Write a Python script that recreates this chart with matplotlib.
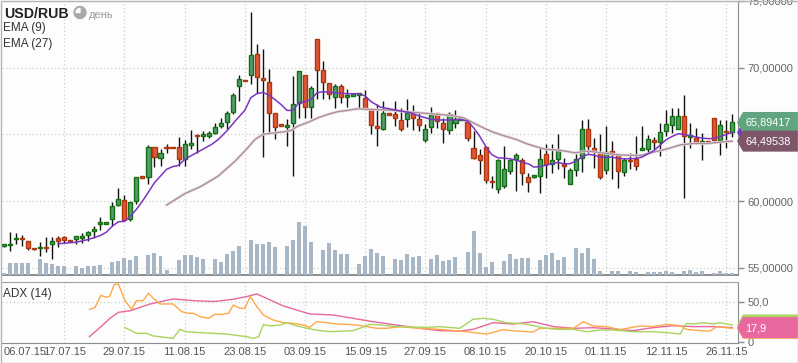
import numpy as np
import matplotlib
matplotlib.use('Agg')
import matplotlib.pyplot as plt
from matplotlib.patches import Polygon, Rectangle, Circle, Wedge

plt.rcParams['font.family'] = ['Liberation Sans', 'DejaVu Sans']

# ------------------------------------------
# Data
# ------------------------------------------
dates = ['06.07.15', '17.07.15', '29.07.15', '11.08.15', '23.08.15', '03.09.15', '15.09.15',
         '27.09.15', '08.10.15', '20.10.15', '01.11.15', '12.11.15', '26.11.15']

opens = [56.63, 56.72, 57.18, 57.25, 57.00, 56.50, 56.48, 56.57, 56.78, 57.25,
         57.32, 57.10, 57.15, 57.22, 57.48, 57.78, 58.30, 58.30, 58.68, 59.72,
         60.10, 58.68, 60.00, 61.85, 61.80, 64.02, 63.22, 64.08, 64.08, 64.02,
         63.18, 64.20, 64.95, 64.88, 64.90, 65.12, 65.65, 65.95, 66.68, 68.62,
         69.10, 69.42, 71.00, 69.20, 68.95, 66.58, 65.75, 65.55, 65.88, 67.38,
         69.42, 67.08, 72.17, 69.80, 68.88, 67.80, 68.60, 67.82, 67.90, 67.95,
         67.70, 66.80, 65.60, 65.42, 66.58, 66.55, 66.08, 66.17, 66.62, 66.17,
         64.58, 65.57, 66.58, 65.88, 65.32, 65.88, 66.08, 65.95, 64.00, 63.42,
         64.08, 61.53, 60.93, 61.13, 62.25, 63.18, 63.05, 61.80, 61.80, 61.88,
         63.55, 62.75, 63.13, 62.75, 61.30, 62.33, 63.25, 65.38, 64.00, 63.63,
         62.33, 63.75, 63.55, 62.18, 63.08, 63.13, 63.83, 63.93, 64.58, 64.45,
         65.25, 65.72, 65.42, 66.37, 64.80, 64.75, 64.35, 64.48, 66.22, 64.58,
         65.27, 65.20]
highs = [56.82, 57.70, 57.62, 57.43, 57.00, 56.50, 56.92, 57.32, 57.32, 57.38,
         57.38, 57.10, 57.40, 57.62, 57.75, 58.12, 58.80, 58.40, 59.92, 60.98,
         60.42, 59.95, 61.78, 61.85, 64.18, 64.02, 63.92, 64.25, 64.08, 64.78,
         64.55, 65.30, 65.05, 65.25, 65.25, 65.88, 66.25, 66.75, 68.12, 69.42,
         69.10, 74.17, 71.75, 71.37, 69.88, 66.58, 65.75, 66.12, 69.37, 69.75,
         69.42, 68.62, 72.17, 70.50, 68.88, 68.75, 68.75, 68.38, 68.05, 68.12,
         68.30, 66.80, 67.25, 67.50, 66.58, 67.50, 67.00, 67.62, 67.17, 66.62,
         65.75, 67.08, 66.58, 66.25, 66.67, 66.80, 66.20, 66.12, 65.25, 63.88,
         64.08, 61.88, 63.18, 64.12, 63.18, 63.58, 63.25, 62.13, 61.93, 63.95,
         64.25, 64.25, 65.00, 63.25, 62.50, 63.50, 66.08, 66.12, 64.75, 65.00,
         65.62, 64.50, 63.55, 63.25, 63.63, 64.88, 65.62, 64.93, 64.80, 65.88,
         66.80, 67.00, 67.00, 67.92, 65.88, 65.50, 65.12, 64.48, 66.22, 66.05,
         66.05, 66.50]
lows = [56.57, 56.25, 56.82, 56.63, 56.33, 56.33, 55.88, 56.17, 55.63, 56.55,
        56.88, 57.00, 56.80, 56.88, 57.00, 57.25, 57.82, 58.30, 58.12, 59.62,
        58.62, 58.50, 59.75, 61.72, 61.25, 62.55, 62.62, 63.62, 63.98, 62.62,
        62.62, 63.88, 63.62, 64.50, 64.75, 65.00, 65.50, 65.38, 66.50, 67.50,
        69.00, 68.75, 68.12, 63.30, 65.00, 64.62, 65.62, 64.12, 61.88, 66.25,
        66.25, 66.25, 67.62, 67.62, 67.62, 67.00, 67.38, 67.05, 67.90, 66.88,
        66.88, 65.00, 64.12, 65.30, 66.48, 65.62, 65.25, 65.58, 65.32, 65.25,
        64.42, 65.12, 65.50, 64.32, 65.00, 65.50, 66.08, 64.50, 63.12, 62.00,
        61.32, 60.95, 60.58, 61.00, 62.00, 60.75, 61.20, 60.68, 61.73, 60.58,
        61.75, 62.08, 62.38, 61.75, 61.25, 61.88, 62.17, 63.63, 62.50, 61.63,
        62.00, 61.63, 61.00, 61.88, 62.38, 62.33, 63.83, 63.63, 63.88, 63.38,
        64.88, 65.12, 65.38, 60.25, 64.00, 64.25, 63.08, 64.35, 64.50, 63.45,
        63.95, 64.83]
closes = [56.75, 56.82, 57.25, 57.18, 56.50, 56.40, 56.57, 56.48, 57.02, 57.00,
          57.08, 57.00, 57.40, 57.35, 57.65, 57.88, 58.45, 58.40, 59.60, 60.12,
          58.62, 59.95, 61.78, 61.72, 64.02, 63.32, 63.58, 63.98, 63.98, 63.18,
          64.30, 64.32, 64.85, 65.00, 65.08, 65.58, 65.82, 66.58, 67.92, 69.18,
          69.00, 70.92, 69.30, 69.08, 66.62, 65.55, 65.62, 65.68, 67.25, 69.75,
          67.05, 68.45, 69.85, 68.95, 68.05, 68.60, 67.82, 67.98, 68.05, 68.08,
          66.92, 65.70, 65.48, 66.58, 66.48, 66.25, 65.42, 66.62, 66.25, 65.72,
          65.42, 66.45, 66.00, 65.38, 66.50, 66.12, 66.20, 64.75, 63.20, 63.08,
          61.58, 61.43, 63.08, 62.38, 63.05, 63.45, 62.13, 61.43, 61.93, 63.13,
          62.78, 63.05, 63.80, 62.63, 62.30, 63.13, 65.38, 64.13, 63.75, 61.80,
          63.70, 63.63, 62.25, 63.05, 62.98, 62.63, 63.95, 64.63, 64.45, 65.20,
          65.80, 66.37, 66.37, 64.88, 64.93, 64.45, 64.48, 64.35, 64.55, 65.70,
          65.17, 65.89417]

volume = [2, 12, 12, 12, 12, 0, 16, 12, 11, 9, 9, 0, 9, 7, 9, 9, 10, 0, 13, 14,
          17, 15, 19, 0, 20, 22, 19, 5, 0, 15, 20, 20, 18, 16, 0, 16, 13, 21, 24, 29,
          0, 35, 31, 31, 33, 28, 0, 29, 35, 53, 49, 33, 0, 25, 32, 25, 21, 21, 0, 11,
          19, 26, 22, 19, 0, 16, 15, 21, 18, 19, 0, 16, 20, 14, 15, 18, 0, 23, 44, 22,
          8, 13, 0, 14, 21, 16, 17, 17, 0, 15, 20, 22, 15, 18, 0, 27, 22, 27, 16, 4,
          0, 4, 4, 0, 4, 3, 0, 3, 3, 3, 4, 3, 0, 4, 5, 3, 4, 0, 2, 4, 2, 2]

# EMA lines (bar index, value)
ema9_x = [9, 12, 14, 16, 17, 18, 19, 20, 21, 22, 23, 24, 25, 26, 27, 28, 29, 30, 31, 33,
          34.5, 35.6, 37, 38.4, 40, 41, 42, 43, 44, 45, 46, 47, 48, 49, 50, 51, 52, 53, 55, 57,
          59, 60, 61, 62.5, 64, 66, 67.5, 69, 71, 72.5, 74, 75.7, 77, 78, 79, 80, 81, 82, 84, 85.6,
          87.3, 88, 89, 90.6, 92, 93, 94, 95, 96, 97, 98, 99, 100, 101, 102, 103, 104, 105, 106, 107,
          108, 109, 110, 111, 112, 113, 114, 115, 116, 117, 118, 119, 120, 121]
ema9_y = [56.80, 56.92, 57.12, 57.42, 57.67, 58.12, 58.45, 58.48, 58.88, 59.38, 60.00, 60.68,
          61.38, 61.88, 62.38, 62.58, 62.68, 63.12, 63.38, 63.88, 64.25, 64.62, 65.25, 66.00,
          66.80, 67.75, 68.05, 68.15, 67.95, 67.62, 67.25, 66.80, 66.80, 67.38, 67.45, 67.62,
          68.12, 68.20, 68.12, 68.05, 68.05, 67.88, 67.45, 67.05, 66.92, 66.75, 66.62, 66.38,
          66.12, 66.08, 66.08, 66.12, 66.00, 65.50, 64.88, 64.12, 63.50, 63.25, 63.18, 63.00,
          62.75, 62.55, 62.58, 62.75, 62.90, 62.80, 62.80, 63.00, 63.30, 63.50, 63.45, 63.30,
          63.27, 63.30, 63.20, 63.17, 63.17, 63.20, 63.30, 63.55, 63.80, 64.20, 64.60, 64.85,
          65.05, 65.00, 64.90, 64.80, 64.72, 64.68, 64.70, 64.85, 65.00, 65.15]

ema27_x = [27, 30, 32.8, 35.6, 38.4, 40, 41.7, 43, 45, 46.6, 47.7, 48.8, 50.4, 52.2, 53.8,
           55.4, 57.1, 58.7, 60.4, 64.1, 67.4, 70.8, 74.1, 76.3, 77.9, 79.6, 81.2, 82.9, 85.1,
           86.7, 88.4, 90, 92.3, 94.8, 97, 99.2, 102.5, 105.8, 108, 110.2, 112.4, 114.6, 116.8,
           119, 121]
ema27_y = [59.70, 60.55, 61.12, 61.88, 63.00, 63.75, 64.62, 65.00, 65.12, 65.20, 65.30, 65.62,
           65.88, 66.25, 66.50, 66.70, 66.80, 66.92, 66.88, 66.82, 66.68, 66.55, 66.42, 66.25,
           65.88, 65.50, 65.18, 64.92, 64.62, 64.32, 64.08, 63.88, 63.82, 63.62, 63.75, 63.62,
           63.45, 63.42, 63.68, 63.92, 64.22, 64.32, 64.32, 64.42, 64.49538]

# ADX (14) panel: +DI, -DI, ADX
pdi_x = [20.1, 22, 23.7, 24.8, 28.1, 29.2, 30.3, 32.6, 37, 40.3, 41.4, 42.3, 43.1, 44.2, 45.9,
         47, 48.1, 50.3, 52.5, 54.2, 56.4, 58, 59.1, 60.8, 62.5, 65.2, 67.5, 70.2, 72.4, 75.7,
         77.9, 79.6, 81.3, 83.4, 86.7, 90, 92.2, 94.6, 96.8, 99, 101.2, 104.5, 107.8, 110.1,
         112.3, 113.4, 114.5, 116.2, 117.8, 118.9, 121]
pdi_y = [17.8, 10.8, 10.8, 7.5, 4.6, 15.7, 12.8, 11.6, 9.9, 6.6, 4.6, 6.6, 21.9, 19.9, 21.1,
         24.0, 21.1, 17.0, 14.1, 12.8, 13.6, 14.1, 17.0, 21.9, 21.1, 19.1, 18.5, 18.2, 19.1, 17.0,
         28.1, 29.4, 28.1, 24.0, 22.3, 17.0, 15.7, 15.7, 12.8, 14.9, 14.9, 12.8, 12.8, 11.6,
         9.9, 23.2, 22.3, 24.0, 22.3, 24.0, 21.1]

mdi_x = [14.2, 15.1, 16.1, 17, 17.6, 18.3, 19, 19.4, 20.1, 21.2, 22, 23.1, 24, 24.8, 25.9,
         28.1, 29.5, 30.6, 31.5, 32.6, 34, 35, 36.2, 37.3, 38.1, 39.2, 40, 40.9, 42, 43.1, 44.7,
         46.4, 48.1, 49.7, 50.8, 51.9, 53.6, 55.3, 56.9, 58.6, 60.3, 61.9, 63.6, 65.8, 69.1,
         72.4, 75.7, 80.2, 82.9, 85.1, 87.9, 89, 94.6, 96.2, 97.9, 100.1, 102.3, 105.6, 107.8,
         110.1, 112.3, 113.4, 115.6, 117.3, 118.4, 121]
mdi_y = [40.5, 42.6, 57.9, 55.4, 57.1, 71.1, 72.0, 64.5, 51.3, 40.5, 51.3, 51.3, 60.4, 54.2,
         47.2, 47.2, 37.6, 35.6, 35.6, 31.4, 29.4, 34.3, 34.3, 35.6, 45.9, 41.8, 41.8, 56.3,
         43.8, 33.5, 27.3, 24.0, 23.2, 21.1, 18.2, 25.2, 24.0, 22.3, 21.9, 21.1, 19.1, 17.0,
         17.0, 19.1, 17.0, 15.7, 13.6, 9.9, 15.3, 13.6, 12.4, 17.0, 17.0, 25.2, 19.9, 19.1,
         15.3, 19.9, 19.1, 21.9, 20.3, 15.7, 14.1, 13.6, 19.1, 17.0]

adx_x = [14.2, 16.1, 17.6, 19, 21, 24.3, 28.1, 31.5, 34.9, 38.1, 40.3, 42, 43.6, 46.4, 50.8,
         54.7, 58, 61.3, 65.2, 69.1, 72.4, 75.7, 77.9, 81.3, 84.6, 87.9, 91.3, 94.6, 97.9,
         101.2, 104.5, 107.8, 111.2, 114.5, 117.8, 121]
adx_y = [6.6, 19.0, 29.4, 36.8, 38.9, 47.2, 53.4, 51.3, 50.2, 53.0, 56.3, 59.6, 54.2, 44.7,
         34.8, 33.5, 29.4, 25.2, 21.1, 17.0, 14.1, 13.6, 15.7, 24.0, 22.3, 25.2, 19.1, 17.0,
         17.8, 16.2, 14.1, 17.8, 20.3, 19.1, 19.1, 17.9]

price_ticks = [55, 60, 65, 70, 75]

# ------------------------------------------
# Layout (pixel based, 798x363)
# ------------------------------------------
W, H = 798, 363
fig = plt.figure(figsize=(W / 100, H / 100), dpi=100)
fig.patch.set_facecolor('#fdfdfd')


def rect(l, t, r, b):
    return [l / W, 1 - b / H, (r - l) / W, (b - t) / H]


n = len(closes)
idx = np.arange(n)
x_lim = (-0.33, 121.93)
grid_kw = dict(color='#c9d2c9', lw=0.9, ls=(0, (1, 2)))
axis_col = '#8c8c8c'

ax = fig.add_axes(rect(2, 1, 738, 275))
vax = fig.add_axes(rect(2, 1, 738, 275))
dax = fig.add_axes(rect(2, 282, 738, 343))
ov = fig.add_axes([0, 0, 1, 1])
ov.set_xlim(0, W)
ov.set_ylim(H, 0)
ov.axis('off')

ax.set_zorder(1)
vax.set_zorder(2)
ov.set_zorder(10)
ax.set_facecolor('#fdfdfd')
vax.set_facecolor('none')
vax.axis('off')
dax.set_facecolor('#fdfdfd')

# ------------------------------------------
# Main price panel
# ------------------------------------------
ax.set_xlim(*x_lim)
ax.set_ylim(54.46, 75.0)
vax.set_xlim(*x_lim)
vax.set_ylim(0, max(volume) * 274 / 53)

for v in range(10, 121, 10):
    ax.axvline(v, zorder=0, **grid_kw)
    dax.axvline(v, zorder=0, **grid_kw)
for p in price_ticks:
    ax.axhline(p, zorder=0, **grid_kw)
dax.axhline(50, zorder=0, **grid_kw)

# volume bars
vax.bar(idx, volume, width=0.66, color='#a7b7c5', zorder=1)

# candles
o = np.array(opens)
c = np.array(closes)
up = c >= o
ax.vlines(idx, lows, highs, color='#111111', lw=1, zorder=2)
body_lo = np.minimum(o, c)
body_h = np.maximum(np.abs(c - o), 0.08)
ax.bar(idx[up], body_h[up], bottom=body_lo[up], width=0.68,
       color='#549b6d', edgecolor='#127012', lw=1, zorder=3)
ax.bar(idx[~up], body_h[~up], bottom=body_lo[~up], width=0.68,
       color='#e2553a', edgecolor='#ad380e', lw=1, zorder=3)

# moving averages
ax.plot(ema27_x, ema27_y, color='#e3d8dd', lw=2.0, zorder=4, solid_capstyle='round')
ax.plot(ema27_x, ema27_y, color='#a98b99', lw=0.9, zorder=4)
ax.plot(ema9_x, ema9_y, color='#7a36c2', lw=1.1, zorder=5)

ax.set_xticks([])
ax.yaxis.tick_right()
ax.set_yticks(price_ticks)
# the 65 label sits under the value tags in the original, so leave it blank
ax.set_yticklabels(['' if v == 65 else f'{v:.5f}'.replace('.', ',') for v in price_ticks])
ax.tick_params(axis='y', length=4, width=1, color=axis_col, labelcolor='#666666',
               labelsize=8, pad=3)
for s in ['top', 'left']:
    ax.spines[s].set_visible(False)
ax.spines['bottom'].set_color(axis_col)
ax.spines['bottom'].set_linewidth(1.4)
ax.spines['right'].set_color(axis_col)

# ------------------------------------------
# ADX panel
# ------------------------------------------
dax.set_xlim(*x_lim)
dax.set_ylim(-1.2, 74.4)
dax.plot(adx_x, adx_y, color='#e8679f', lw=1, zorder=3)
dax.plot(mdi_x, mdi_y, color='#ffa94a', lw=1, zorder=3)
dax.plot(pdi_x, pdi_y, color='#a9d45e', lw=1, zorder=3)

dax.yaxis.tick_right()
dax.set_yticks([0, 50])
dax.set_yticklabels(['0', '50,0'])
dax.tick_params(axis='y', length=4, width=1, color=axis_col, labelcolor='#666666',
                labelsize=8, pad=3)
dax.set_xticks(range(0, 121, 10))
dax.set_xticklabels(dates)
dax.tick_params(axis='x', length=0, labelcolor='#555555', labelsize=8, pad=3)
dax.get_xticklabels()[0].set_ha('left')
dax.spines['left'].set_visible(False)
for s in ['top', 'bottom', 'right']:
    dax.spines[s].set_color(axis_col)
dax.spines['top'].set_color('#a0a0a0')

# ------------------------------------------
# Value tags on the right axis
# ------------------------------------------
def tag(axis, value, color, text=None):
    y = H - axis.transData.transform((x_lim[1], value))[1]
    pts = [(737, y), (743, y - 10.5), (W, y - 10.5), (W, y + 10.5), (743, y + 10.5)]
    ov.add_patch(Polygon(pts, closed=True, facecolor=color, edgecolor='none'))
    if text:
        ov.text(745, y + 0.5, text, color='white', fontsize=7.8, va='center', ha='left')


tag(ax, ema9_y[-1], '#7a36c2')
tag(ax, closes[-1], '#62a47f', f'{closes[-1]:.5f}'.replace('.', ','))
tag(ax, ema27_y[-1], '#7e566a', f'{ema27_y[-1]:.5f}'.replace('.', ','))
tag(dax, pdi_y[-1], '#a9d45e')
tag(dax, mdi_y[-1], '#ffa94a')
tag(dax, adx_y[-1], '#e8679f', f'{adx_y[-1]:.1f}'.replace('.', ','))

# ------------------------------------------
# Header texts and frame
# ------------------------------------------
ov.text(4, 17.5, 'USD/RUB', fontsize=10.2, fontweight='bold', color='#222222', va='baseline')
ov.add_patch(Circle((80, 12.5), 6, color='#a8a8a8'))
ov.add_patch(Wedge((80, 12.5), 4, 180, 270, color='#fdfdfd'))
ov.text(89, 17.5, 'день', fontsize=8, color='#9a9a9a', va='baseline')
ov.text(3, 31.5, 'EMA (9)', fontsize=8.5, color='#333333', va='baseline')
ov.text(3, 46.5, 'EMA (27)', fontsize=8.5, color='#333333', va='baseline')
ov.text(3, 296.5, 'ADX (14)', fontsize=8.5, color='#333333', va='baseline')
ov.add_patch(Rectangle((0.5, 0.5), W - 1, H - 1, fill=False, edgecolor='#b4b4b4', lw=1))

plt.savefig('out.png', dpi=100, facecolor=fig.get_facecolor())
plt.close()
